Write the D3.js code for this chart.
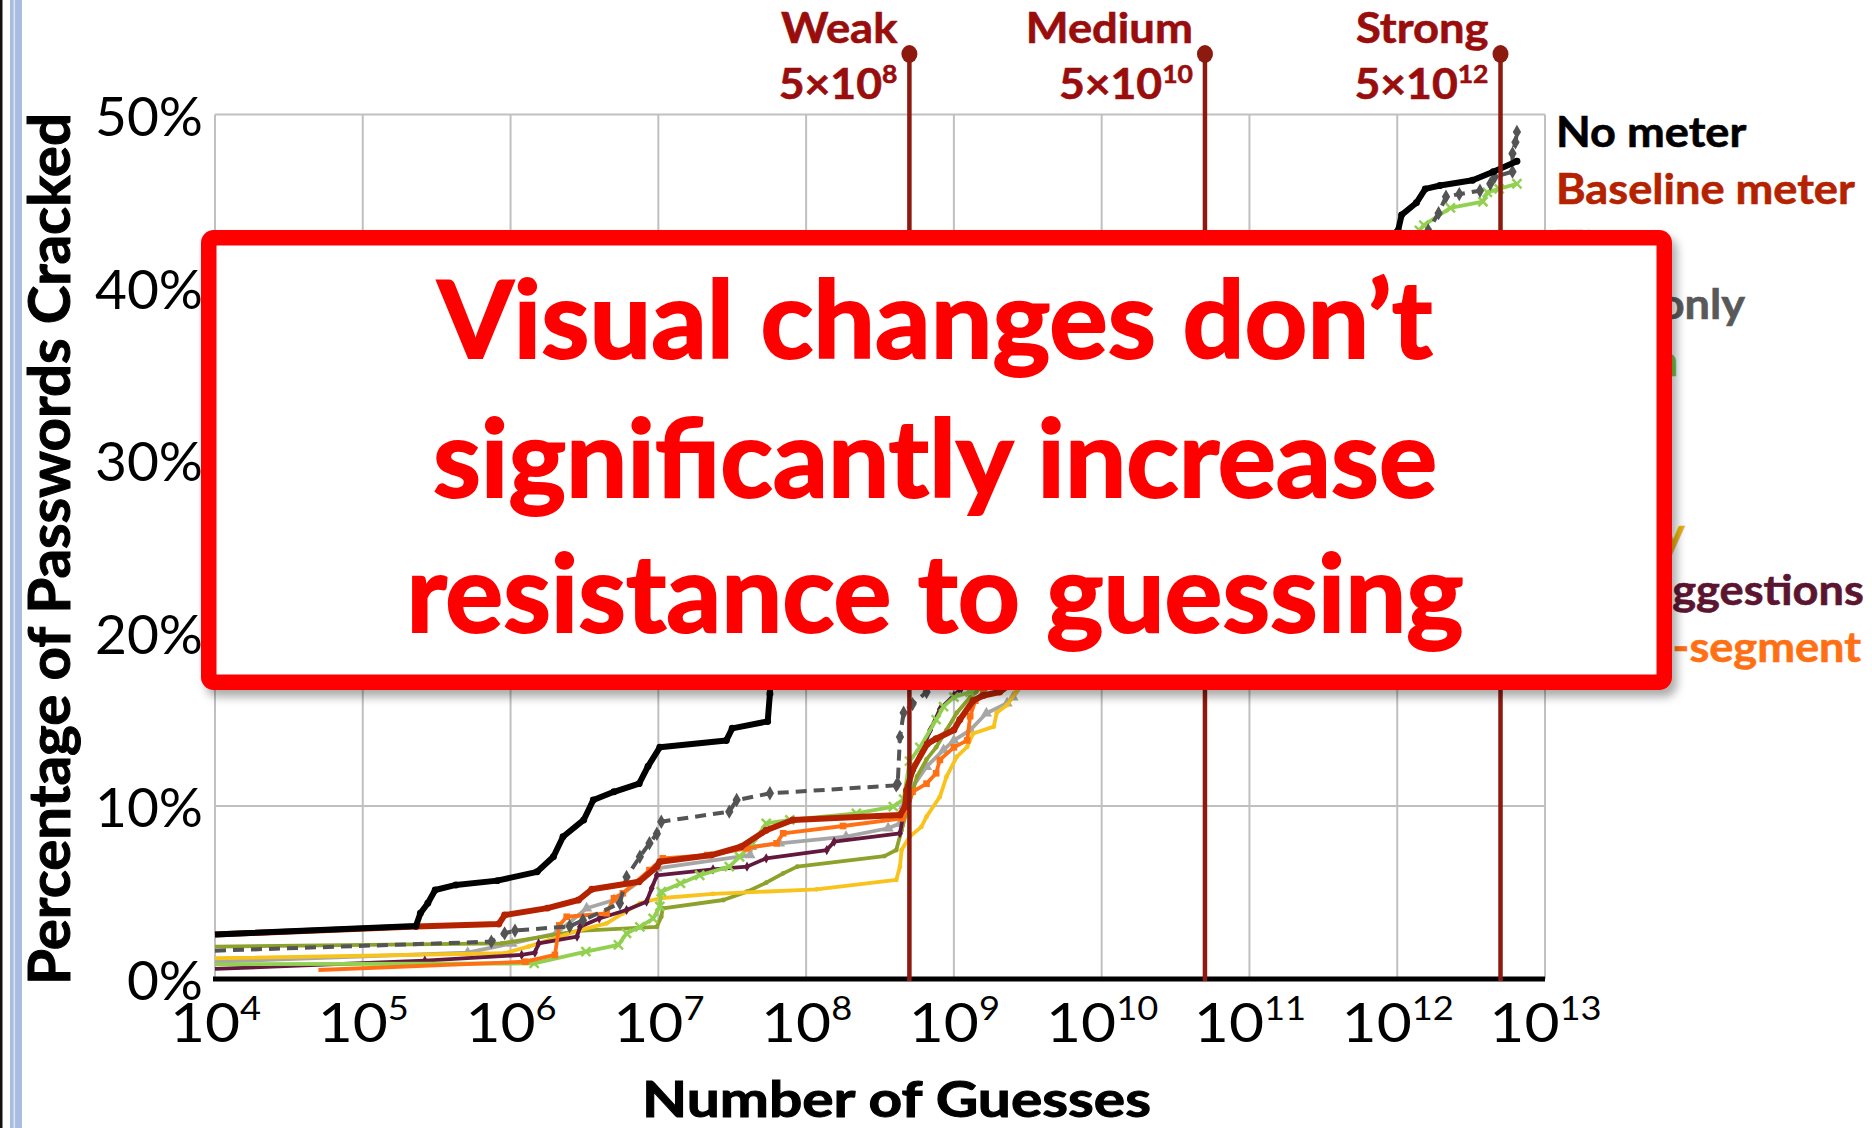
<!DOCTYPE html>
<html><head><meta charset="utf-8">
<script src="https://cdn.jsdelivr.net/npm/d3@7"></script>
<style>
body{margin:0;background:#fff;}
svg{display:block;font-family:Lato,"Open Sans",sans-serif;}
</style>
</head><body>
<svg id="c" width="1872" height="1128"></svg>
<script>
// ---------- DATA ----------
const xTickExponents = [4,5,6,7,8,9,10,11,12,13];
const yTickValues = [0,10,20,30,40,50];
const thresholdLabels = ["Weak","Medium","Strong"];
const thresholdMantissas = [5,5,5];
const thresholdExponents = [8,10,12];
const legendLabels = ["No meter","Baseline meter","Tiny","Text-only","Green","Huge",null,"Bunny","No suggestions","Three-segment"];
const calloutLines = ["Visual changes don\u2019t","significantly increase","resistance to guessing"];
const xTitle = "Number of Guesses";
const yTitle = "Percentage of Passwords Cracked";

// each point: [log10(number of guesses), percent cracked]
const noMeterData = [[4.0,2.58],[5.36,3.06],[5.39,3.8],[5.44,4.38],[5.49,5.15],[5.63,5.44],[5.91,5.69],[6.18,6.2],[6.29,7.07],[6.355,8.23],[6.495,9.2],[6.56,10.35],[6.70,10.83],[6.87,11.3],[6.93,12.3],[7.01,13.4],[7.46,13.8],[7.50,14.5],[7.74,14.9],[7.755,16.5],[7.76,18.5],[8.0,19.8],[8.4,21.5],[8.66,23.0],[8.72,27.0],[9.0,30.5],[9.5,33.5],[10.0,35.5],[10.5,37.5],[11.0,39.5],[11.5,41.2],[11.9,42.6],[12.006,43.3],[12.03,44.2],[12.13,44.9],[12.19,45.7],[12.29,45.9],[12.51,46.2],[12.65,46.7],[12.81,47.3]];
const baselineData = [[4.0,2.58],[5.36,3.03],[5.92,3.18],[5.96,3.7],[6.25,4.1],[6.46,4.57],[6.55,5.19],[6.87,5.63],[6.99,6.5],[7.01,6.78],[7.36,7.17],[7.56,7.65],[7.73,8.6],[7.91,9.2],[8.635,9.49],[8.67,9.97],[8.68,10.9],[8.72,12.1],[8.82,13.6],[8.88,13.9],[9.0,14.4],[9.04,15.0],[9.13,16.1],[9.2,16.4],[9.31,16.6],[9.6,18.5],[10.0,21.0],[10.5,24.0],[11.0,28.0],[11.5,32.0],[12.0,36.5],[12.5,39.5],[12.75,41.0]];
const textOnlyData = [[4.0,1.64],[5.87,2.16],[5.96,2.64],[6.03,2.8],[6.40,3.05],[6.49,3.4],[6.74,4.38],[6.785,5.9],[6.875,7.07],[6.94,7.85],[6.99,8.4],[7.02,9.1],[7.48,9.68],[7.53,10.35],[7.755,10.74],[8.61,11.2],[8.62,11.3],[8.635,14.0],[8.66,15.4],[8.72,15.9],[8.815,16.6],[8.9,18],[9.2,21],[9.6,24],[10,27],[10.5,31],[11,35],[11.5,38.5],[12,42],[12.21,43.3],[12.28,44.3],[12.33,45.25],[12.42,45.4],[12.56,45.6],[12.63,46.0],[12.66,46.4],[12.78,46.7],[12.78,47.75],[12.80,48.4],[12.81,49.0]];
const greenData = [[4.0,0.85],[6.16,0.9],[6.51,1.58],[6.73,1.97],[6.785,2.64],[6.875,3.02],[6.965,3.5],[7.01,4.2],[7.02,5.05],[7.15,5.53],[7.28,6.0],[7.48,6.5],[7.55,7.07],[7.64,7.85],[7.73,9.0],[7.89,9.2],[8.34,9.58],[8.59,9.97],[8.66,10.4],[8.70,12.6],[8.77,13.4],[8.88,15.0],[8.93,15.75],[9.0,16.3],[9.11,16.6],[9.3,18],[9.6,21],[10,24],[10.5,28],[11,32],[11.5,36.5],[12,41.5],[12.15,43.3],[12.18,43.6],[12.36,44.6],[12.58,44.96],[12.61,45.5],[12.69,45.7],[12.81,46.0]];
const hugeData = [[4.0,1.87],[5.94,2.06],[6.46,2.78],[6.99,3.02],[7.02,3.6],[7.03,4.09],[7.44,4.57],[7.6,5.05],[7.73,5.57],[7.845,6.11],[7.94,6.5],[8.53,7.11],[8.61,7.46],[8.646,8.6],[8.69,10.0],[8.75,11.7],[8.815,12.7],[8.88,13.4],[8.95,14.4],[9.02,15.4],[9.11,16.3],[9.15,16.6],[9.4,19],[9.8,22],[10.3,25.5],[10.8,29],[11.3,32.5],[11.8,35.5],[12.3,38],[12.7,39.5]];
const bunnyData = [[4.0,1.2],[5.96,1.49],[6.12,1.87],[6.47,2.83],[6.65,3.22],[6.76,3.8],[6.875,4.38],[7.01,4.67],[7.37,4.92],[8.07,5.19],[8.61,5.73],[8.635,6.5],[8.646,7.46],[8.70,8.23],[8.78,8.8],[8.815,9.39],[8.905,10.54],[8.95,11.7],[9.02,12.86],[9.09,13.43],[9.13,14.2],[9.27,14.6],[9.29,15.4],[9.36,15.85],[9.42,16.6],[9.7,19],[10.1,22],[10.6,25.5],[11.1,29],[11.6,32.5],[12.1,35.5],[12.6,38]];
const tinyData = [[4.0,1.0],[5.71,1.52],[6.01,2.06],[6.31,2.64],[6.515,4.09],[6.70,4.57],[6.99,6.4],[7.62,7.17],[7.63,7.65],[7.82,7.85],[8.27,8.23],[8.555,8.72],[8.635,9.0],[8.66,10.0],[8.72,11.1],[8.815,12.28],[8.93,13.25],[9.0,13.8],[9.11,14.4],[9.22,15.37],[9.36,15.95],[9.40,16.3],[9.5,17.5],[9.9,20.5],[10.4,24],[10.9,27.5],[11.4,31],[11.9,34.5],[12.4,37.5],[12.75,39.5]];
const noSuggestionsData = [[4.0,0.58],[5.42,1.06],[6.075,1.39],[6.165,1.52],[6.19,2.06],[6.45,2.45],[6.47,3.02],[6.6,3.5],[6.785,3.99],[6.92,4.47],[6.955,5.25],[6.99,6.0],[7.37,6.34],[7.6,6.5],[7.73,6.98],[8.14,7.46],[8.19,7.94],[8.635,8.43],[8.66,9.6],[8.70,11.5],[8.77,12.9],[8.84,14.4],[8.905,15.6],[9.0,16.4],[9.05,16.8],[9.3,19.5],[9.7,23],[10.2,27],[10.7,30.5],[11.2,34],[11.7,37],[12.2,39.5],[12.7,41.5]];
const threeSegmentData = [[4.70,0.52],[6.10,1.0],[6.30,1.39],[6.33,3.1],[6.38,3.6],[6.65,3.8],[6.70,4.67],[6.76,4.96],[6.94,6.3],[7.03,6.98],[7.33,7.17],[7.60,7.56],[7.80,7.85],[7.845,8.43],[8.25,8.85],[8.65,9.29],[8.68,9.68],[8.72,10.83],[8.815,11.3],[8.88,11.9],[8.905,12.67],[9.0,13.4],[9.09,13.8],[9.11,15.2],[9.145,16.1],[9.2,16.6],[9.5,19.5],[9.9,23],[10.4,26.5],[10.9,30],[11.4,33.5],[11.9,36.5],[12.4,39],[12.75,40.5]];

// ---------- STYLES ----------
const FONT = 'Lato,"Open Sans",sans-serif';
const styles = {
  "No meter":       {color:"#000000", text:"#000000", width:6,   marker:"circle",   ms:38},
  "Baseline meter": {color:"#B42200", text:"#B42200", width:6,   marker:"circle",   ms:38},
  "Text-only":      {color:"#545454", text:"#595959", width:4,   marker:"diamond",  ms:60, dash:"11,7"},
  "Green":          {color:"#92D050", text:"#7DC540", width:3.8, marker:"times",    ms:55},
  "Tiny":           {color:"#A6A6A6", text:"#A6A6A6", width:3.8, marker:"triangle", ms:55},
  "Huge":           {color:"#8CA22A", text:"#8CA22A", width:3.8, marker:"circle",   ms:18},
  "Bunny":          {color:"#F8C31C", text:"#E9B20E", width:3.8, marker:"circle",   ms:18},
  "No suggestions": {color:"#63193D", text:"#5C1530", width:3.8, marker:"diamond",  ms:30},
  "Three-segment":  {color:"#FF7014", text:"#FF7014", width:3.8, marker:"square",   ms:44}
};
const drawOrder = [
  ["Tiny", tinyData], ["Huge", hugeData], ["Bunny", bunnyData], ["No suggestions", noSuggestionsData],
  ["Green", greenData], ["Three-segment", threeSegmentData], ["Text-only", textOnlyData],
  ["Baseline meter", baselineData], ["No meter", noMeterData]
];

// ---------- CHART ----------
const svg = d3.select("#c");
const W = 1872, H = 1128;
const x = d3.scaleLog().domain([1e4, 1e13]).range([215, 1545]);
const y = d3.scaleLinear().domain([0, 50]).range([979, 114.6]);
const gx = d => x(Math.pow(10, d[0]));
const stretch = (sel, k) => sel.each(function() {
  const w = this.getComputedTextLength();
  d3.select(this).attr("textLength", w * k).attr("lengthAdjust", "spacingAndGlyphs");
});

svg.append("rect").attr("width", W).attr("height", H).attr("fill", "#fff");
// slide edge decoration
svg.append("rect").attr("x",0).attr("y",0).attr("width",2.5).attr("height",H).attr("fill","#111");
svg.append("rect").attr("x",10).attr("y",0).attr("width",12).attr("height",H).attr("fill","#A9BDE2");
svg.append("rect").attr("x",13.5).attr("y",0).attr("width",1.6).attr("height",H).attr("fill","#DCE4F4");

const defs = svg.append("defs");
const f = defs.append("filter").attr("id","sh").attr("x","-5%").attr("y","-5%").attr("width","112%").attr("height","120%");
f.append("feDropShadow").attr("dx",5).attr("dy",7).attr("stdDeviation",5).attr("flood-color","#000").attr("flood-opacity",0.33);

// grid
const grid = svg.append("g");
xTickExponents.forEach(e => {
  grid.append("line").attr("x1", x(Math.pow(10,e))).attr("x2", x(Math.pow(10,e)))
    .attr("y1", y(50)).attr("y2", y(0)).attr("stroke", "#C0C0C0").attr("stroke-width", 2);
});
yTickValues.filter(v => v > 0).forEach(v => {
  grid.append("line").attr("x1", x(1e4)).attr("x2", x(1e13)).attr("y1", y(v)).attr("y2", y(v))
    .attr("stroke", "#C0C0C0").attr("stroke-width", 2);
});

// y axis
const yAxis = svg.append("g").attr("transform", `translate(${x(1e4)},0)`)
  .call(d3.axisLeft(y).tickValues(yTickValues).tickSize(0).tickPadding(12).tickFormat(d => d + "%"));
yAxis.select(".domain").remove();
yAxis.selectAll("text").attr("font-family", FONT).attr("font-size", 54).attr("fill", "#000").attr("dy", "0.38em");
stretch(yAxis.selectAll("text"), 1.02);

// x axis
const xAxis = svg.append("g").attr("transform", `translate(0,${y(0)})`)
  .call(d3.axisBottom(x).tickValues(xTickExponents.map(e => Math.pow(10, e))).tickSize(0).tickFormat(""));
xAxis.select(".domain").remove();
xAxis.selectAll(".tick").each(function(d) {
  const e = Math.round(Math.log10(d));
  const t = d3.select(this).append("text").attr("y", 63).attr("text-anchor", "middle")
    .attr("font-family", FONT).attr("fill", "#000");
  t.append("tspan").attr("font-size", 55).text("10");
  t.append("tspan").attr("font-size", 33).attr("dy", -22).text(e);
  stretch(t, 1.1);
});

// series
const line = d3.line().x(gx).y(d => y(d[1]));
const symbolType = {circle:d3.symbolCircle, diamond:d3.symbolDiamond, times:d3.symbolTimes, triangle:d3.symbolTriangle, square:d3.symbolSquare};
drawOrder.forEach(([name, data]) => {
  const s = styles[name];
  svg.append("path").datum(data).attr("d", line).attr("fill", "none")
    .attr("stroke", s.color).attr("stroke-width", s.width).attr("stroke-linejoin", "round")
    .attr("stroke-dasharray", s.dash || null);
  const sym = d3.symbol().type(symbolType[s.marker]).size(s.ms);
  svg.append("g").selectAll("path").data(data.slice(1)).join("path")
    .attr("transform", d => `translate(${gx(d)},${y(d[1])})`)
    .attr("d", sym)
    .attr("fill", s.marker === "times" ? "none" : s.color)
    .attr("stroke", s.marker === "times" ? s.color : "none")
    .attr("stroke-width", 2.5);
});

// x axis baseline
svg.append("line").attr("x1", x(1e4) - 2).attr("x2", x(1e13)).attr("y1", y(0)).attr("y2", y(0))
  .attr("stroke", "#000").attr("stroke-width", 5);

// thresholds
const thrColor = "#8C1A0F", thrText = "#990D0D";
thresholdLabels.forEach((lab, i) => {
  const xv = x(thresholdMantissas[i] * Math.pow(10, thresholdExponents[i]));
  svg.append("line").attr("x1", xv).attr("x2", xv).attr("y1", 54).attr("y2", y(0) + 2)
    .attr("stroke", thrColor).attr("stroke-width", 4.5);
  svg.append("ellipse").attr("cx", xv).attr("cy", 54).attr("rx", 8).attr("ry", 9).attr("fill", thrColor);
  const n = svg.append("text").attr("x", xv - 12).attr("y", 43).attr("text-anchor", "end")
    .attr("font-family", FONT).attr("font-weight", 700).attr("font-size", 42).attr("fill", thrText)
    .attr("stroke", thrText).attr("stroke-width", 0.6).text(lab);
  stretch(n, 1.08);
  const t = svg.append("text").attr("x", xv - 12).attr("y", 99).attr("text-anchor", "end")
    .attr("font-family", FONT).attr("font-weight", 700).attr("fill", thrText)
    .attr("stroke", thrText).attr("stroke-width", 0.6);
  t.append("tspan").attr("font-size", 42).text(thresholdMantissas[i] + "\u00D710");
  t.append("tspan").attr("font-size", 25).attr("dy", -16).text(thresholdExponents[i]);
  stretch(t, 1.06);
});

// legend
legendLabels.forEach((lab, i) => {
  if (!lab) return;
  const t = svg.append("text").attr("x", 1556).attr("y", 146.7 + i * 57.3)
    .attr("font-family", FONT).attr("font-weight", 700).attr("font-size", 42)
    .attr("fill", styles[lab].text).attr("stroke", styles[lab].text).attr("stroke-width", 0.6).text(lab);
  stretch(t, 1.075);
});

// axis titles
svg.append("text").attr("transform", "translate(70,549) rotate(-90)").attr("text-anchor", "middle")
  .attr("font-family", FONT).attr("font-weight", 700).attr("font-size", 57).attr("fill", "#000")
  .attr("stroke", "#000").attr("stroke-width", 1)
  .attr("textLength", 872).attr("lengthAdjust", "spacingAndGlyphs").text(yTitle);
svg.append("text").attr("x", 896.5).attr("y", 1117).attr("text-anchor", "middle")
  .attr("font-family", FONT).attr("font-weight", 700).attr("font-size", 50).attr("fill", "#000")
  .attr("stroke", "#000").attr("stroke-width", 1)
  .attr("textLength", 509).attr("lengthAdjust", "spacingAndGlyphs").text(xTitle);

// callout box
svg.append("rect").attr("x", 208.75).attr("y", 237.75).attr("width", 1455.5).attr("height", 444.5)
  .attr("rx", 5).attr("fill", "#fff").attr("stroke", "#FF0000").attr("stroke-width", 15.5)
  .attr("filter", "url(#sh)");
const calloutBase = [358, 497, 632], calloutLen = [995, 1004, 1057];
calloutLines.forEach((t, i) => {
  svg.append("text").attr("x", 935).attr("y", calloutBase[i]).attr("text-anchor", "middle")
    .attr("font-family", FONT).attr("font-weight", 700).attr("font-size", 108).attr("fill", "#FF0000")
    .attr("stroke", "#FF0000").attr("stroke-width", 2)
    .attr("textLength", calloutLen[i]).attr("lengthAdjust", "spacingAndGlyphs").text(t);
});
</script>
</body></html>
